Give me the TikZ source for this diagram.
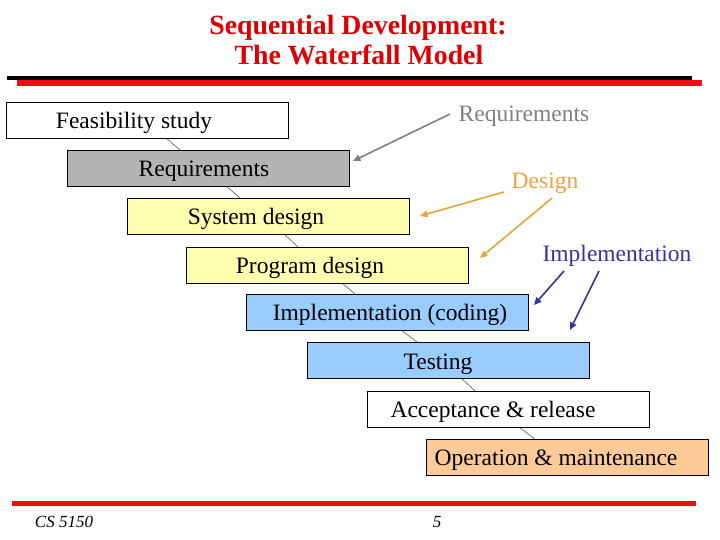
\documentclass[tikz,border=0pt]{standalone}
\usepackage{fontspec}
\setmainfont{Liberation Serif}
\usetikzlibrary{arrows.meta}
\definecolor{titlered}{RGB}{222,0,0}
\definecolor{barred}{RGB}{232,18,18}
\definecolor{boxgray}{RGB}{180,180,180}
\definecolor{boxyellow}{RGB}{255,255,176}
\definecolor{boxblue}{RGB}{153,204,255}
\definecolor{boxorange}{RGB}{252,202,152}
\definecolor{anngray}{RGB}{128,128,128}
\definecolor{annorange}{RGB}{234,164,58}
\definecolor{annblue}{RGB}{52,52,160}
\tikzset{
  stage/.style={draw=black, line width=0.8pt, rectangle, minimum width=282pt, minimum height=36pt, inner sep=0pt, anchor=north west},
  stagetext/.style={anchor=base, inner sep=0pt, font=\fontsize{23.5}{26}\selectfont},
  link/.style={draw=black!75, line width=0.5pt},
  anntext/.style={anchor=base, inner sep=0pt, font=\fontsize{23.5}{26}\selectfont},
  annarrow/.style={line width=1.6pt, -{Triangle[length=7.5pt,width=6.5pt]}},
  titletext/.style={anchor=base, inner sep=0pt, text=titlered, font=\fontsize{27.8}{30}\selectfont\bfseries},
}
\begin{document}
\begin{tikzpicture}[x=1pt,y=-1pt]
\useasboundingbox (0,0) rectangle (720,540);
% title
\node[titletext] (t1) at (358,35) {Sequential Development:};
\node[titletext] (t2) at (359,65) {The Waterfall Model};
% header bars
\fill[black] (7,76) rectangle (692,80.5);
\fill[barred] (17,80.5) rectangle (702,86.5);
% stages
\node[stage, fill=white] (fs) at (6,102) {};
\node[stage, fill=boxgray] (rq) at (67,150) {};
\node[stage, fill=boxyellow] (sd) at (127,198) {};
\node[stage, fill=boxyellow] (pd) at (186,247) {};
\node[stage, fill=boxblue] (ic) at (246,294) {};
\node[stage, fill=boxblue] (ts) at (307,342) {};
\node[stage, fill=white] (ar) at (367,391) {};
\node[stage, fill=boxorange] (om) at (426,439) {};
% stage labels
\node[stagetext] (fsl) at (134,129) {Feasibility study};
\node[stagetext] (rql) at (204,177) {Requirements};
\node[stagetext] (sdl) at (256,225) {System design};
\node[stagetext] (pdl) at (310,273) {Program design};
\node[stagetext] (icl) at (390,320) {Implementation (coding)};
\node[stagetext] (tsl) at (438,369) {Testing};
\node[stagetext] (arl) at (493,417) {Acceptance \& release};
\node[stagetext] (oml) at (556,465) {Operation \& maintenance};
% links
\draw[link] ([xshift=161pt]fs.south west) -- ([xshift=113pt]rq.north west);
\draw[link] ([xshift=160pt]rq.south west) -- ([xshift=113pt]sd.north west);
\draw[link] ([xshift=158pt]sd.south west) -- ([xshift=112pt]pd.north west);
\draw[link] ([xshift=157pt]pd.south west) -- ([xshift=109pt]ic.north west);
\draw[link] ([xshift=156pt]ic.south west) -- ([xshift=110pt]ts.north west);
\draw[link] ([xshift=155pt]ts.south west) -- ([xshift=108pt]ar.north west);
\draw[link] ([xshift=153pt]ar.south west) -- ([xshift=109pt]om.north west);
% annotations
\node[anntext, text=anngray] (areq) at (524,122) {Requirements};
\node[anntext, text=annorange] (ades) at (545,189) {Design};
\node[anntext, text=annblue] (aimp) at (617,261) {Implementation};
\coordinate (g1s) at (450,114);
\coordinate (g1e) at (353,161);
\coordinate (o1s) at (504,192);
\coordinate (o1e) at (420,216);
\coordinate (o2s) at (552,198);
\coordinate (o2e) at (480,258);
\coordinate (b1s) at (564,271);
\coordinate (b1e) at (534,305);
\coordinate (b2s) at (599,271);
\coordinate (b2e) at (570,330);
\draw[annarrow, anngray] (g1s) -- (g1e);
\draw[annarrow, annorange] (o1s) -- (o1e);
\draw[annarrow, annorange] (o2s) -- (o2e);
\draw[annarrow, annblue] (b1s) -- (b1e);
\draw[annarrow, annblue] (b2s) -- (b2e);
% footer
\fill[barred] (12,501) rectangle (696,506);
\node[anchor=base, inner sep=0pt, font=\fontsize{17}{20}\selectfont\itshape] (cs) at (64,527) {CS 5150};
\node[anchor=base, inner sep=0pt, font=\fontsize{17}{20}\selectfont\itshape] (pg) at (437,527) {5};
\end{tikzpicture}
\end{document}
